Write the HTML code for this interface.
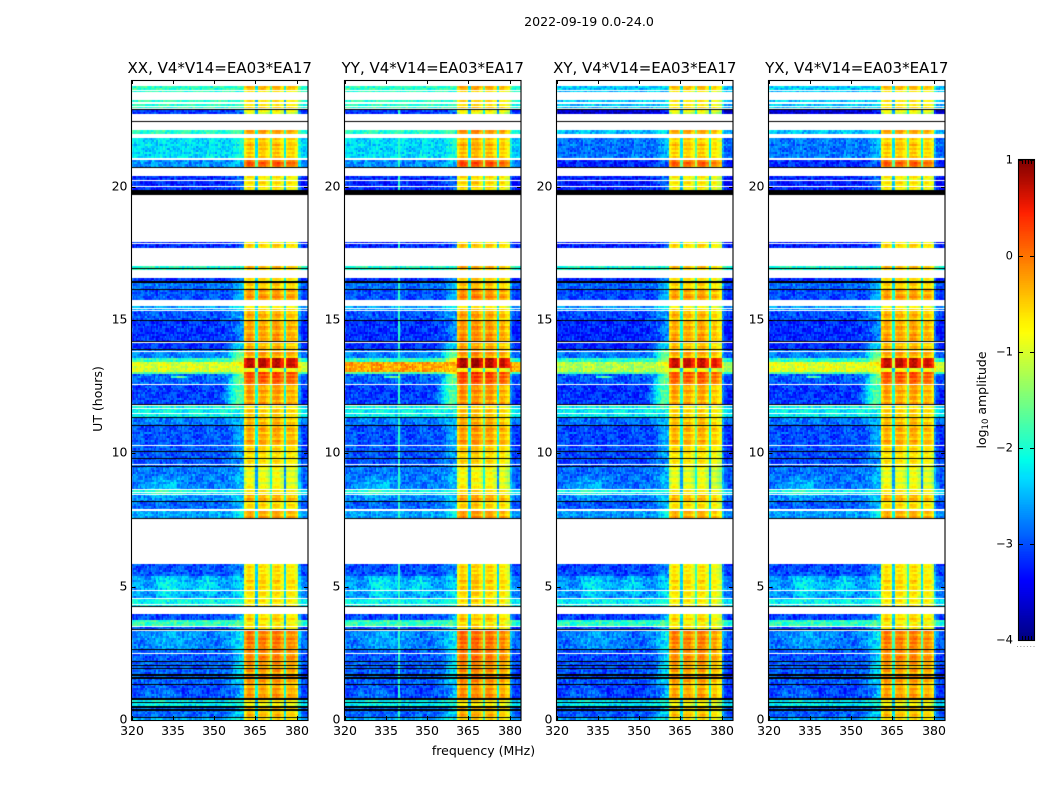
<!DOCTYPE html>
<html>
<head>
<meta charset="utf-8">
<title>2022-09-19 spectrogram</title>
<style>
html,body{margin:0;padding:0;background:#fff;}
#stage{position:relative;width:1050px;height:800px;overflow:hidden;background:#fff;font-family:"DejaVu Sans","Liberation Sans",sans-serif;}
canvas{position:absolute;display:block;}
svg{position:absolute;left:0;top:0;}
text{font-family:"DejaVu Sans","Liberation Sans",sans-serif;fill:#000;}
</style>
</head>
<body>
<div id="stage">
  <canvas id="heat0"></canvas>
  <canvas id="heat1"></canvas>
  <canvas id="heat2"></canvas>
  <canvas id="heat3"></canvas>
  <canvas id="cbar"></canvas>
  <svg id="overlay" width="1050" height="800">
    <text x="589" y="26" text-anchor="middle" font-size="12.6">2022-09-19 0.0-24.0</text>
    <text x="483.5" y="755" text-anchor="middle" font-size="12.5">frequency (MHz)</text>
    <text transform="translate(102,399) rotate(-90)" text-anchor="middle" font-size="12.5">UT (hours)</text>
    <text transform="translate(986,400) rotate(-90)" text-anchor="middle" font-size="12.5">log<tspan font-size="8.5" dy="2">10</tspan><tspan dy="-2"> amplitude</tspan></text>
  </svg>
</div>
<script>
// ---- panel metadata
const panelTitles = ["XX, V4*V14=EA03*EA17","YY, V4*V14=EA03*EA17","XY, V4*V14=EA03*EA17","YX, V4*V14=EA03*EA17"];
const freqTicks = [320,335,350,365,380];
const hourTicks = [0,5,10,15,20];
const colorTicks = [1,0,-1,-2,-3,-4];

// ---- time segments (UT hours) and log10 amplitude levels
const segStart = [0,.11,.49,.79,1.35,2.21,2.66,3.34,3.56,3.75,4.24,4.58,4.88,5.4,7.58,7.91,8.18,8.44,8.63,9.49,10.31,11.03,11.36,11.85,12.6,12.94,13.05,13.2,13.43,13.58,13.88,14.14,15,15.38,15.75,16.13,16.39,16.88,17.7,19.88,20.7,21.08,22.01,22.76,22.88,23.44];
const segEnd   = [.11,.49,.79,1.35,2.21,2.66,3.34,3.56,3.75,3.98,4.58,4.88,5.4,5.85,7.91,8.18,8.44,8.63,9.49,10.31,11.03,11.36,11.81,12.6,12.94,13.05,13.2,13.43,13.58,13.88,14.14,15,15.38,15.56,16.13,16.39,16.58,17,17.96,20.4,21,21.83,22.09,22.88,23.25,23.74];
const lowLevel = [-2.35,-2.7,-2.2,-2.85,-2.75,-2.75,-2.6,-2.85,-1.85,-2.85,-2.15,-2.45,-2.45,-2.8,-2.4,-2.7,-2.55,-2.2,-2.6,-2.8,-2.8,-2.6,-2.15,-2.9,-2.7,-1.7,-1.0,-1.0,-1.9,-2.6,-2.95,-2.95,-2.8,-2.45,-2.8,-2.65,-3,-1.95,-3,-3,-2.5,-2.3,-1.95,-2.95,-1.9,-1.9];
const shoulderLevel = [-2,-2.3,-2,-2.5,-2.3,-2.4,-2.2,-2.5,-1.8,-2.5,-2.1,-2.3,-2.4,-2.7,-2.2,-2.5,-2.4,-2.2,-2.5,-2.6,-2.6,-2.4,-2.1,-1.95,-1.6,-1.3,-1,-.85,-1.3,-1.6,-2.2,-2.7,-2.6,-2.3,-2.6,-2.5,-2.8,-1.9,-2.9,-2.9,-2.4,-2.1,-1.9,-2.9,-1.9,-1.9];
const bandLevel = [-.7,-.45,-.7,-.25,-.2,-.1,-.05,-.55,-.65,-.55,-.7,-.65,-.55,-.6,-.25,-.6,-.3,-.7,-.85,-.6,-.3,-.35,-.55,-.25,.2,.2,-.7,.75,.75,-.3,-.35,-.25,-.35,-.6,-.2,-.45,-.55,-.4,-.55,-.65,.1,-.45,-.25,-.85,-.65,-.45];

// ---- quiet rows sit lower than the bright rows
const dimRowsBelow = -2.31;
const dimRowsShift = -.18;

// ---- per-panel shift for the uppermost rows (UT hours above topRowsFrom)
const topRowsFrom = 20.4;
const topRowsOffset = [0,0,-.45,-.45];

// ---- flagged rows (UT hours)
const whiteLines = [23.625,23.55,23.475,23.175,23.1,23.025,22.95,20.25,20.025,17.85,15.45,15.375,14.14,13.8,12.6,11.78,11.7,11.51,10.31,9.6,8.63,8.55,8.44,7.91,7.875,4.875,4.575,4.35,3.525,3.34,2.51];
const blackLines = [22.91,22.44,20.72,16.93,16.13,15,14.18,13.88,11.85,11.36,11.03,10.05,9.79,9.49,8.18,7.575,4.24,3.41,2.66,2.21,2.06,1.95,1.35,.675,.11];
const blackThickLines = [16.43,1.69,1.58,.79,.49,.41];
const blackBandStart = [19.69];
const blackBandEnd = [19.88];

// ---- frequency structure (MHz)
const subbandStart = [360.8,365.6,370.7,375.6];
const subbandEnd = [365,370.1,375.1,380.3];
const notchDrop = [1.8,1.25,1.75];
const panelBandGain = [[.05,0,.05,-.1],[.12,.12,.08,-.05],[0,-.05,0,-.2],[.02,-.02,.02,-.12]];
const panelBandEndShift = [0,-.6,-.6,-.4];
const panelLowOffset = [0,-.02,-.08,-.05];
const brightRowBoost = [0,.75,-.15,.1];
const edgeFalloff = [-.35,-.2,-.06,0];
const shoulderWeight = [0,0,.05,.1,.15,.25,.4,.6,.8,.95,1,1];
const rightLift = [.45,.08,0,0,0];
const vertLineMhz = [null,339.5,null,null];
const spotHour = 12.85;
const spotMhz = [337,337,337,336];

// ---- soft patches: hour, MHz, hour radius, MHz radius, amplitude
const blobHour = [5,5,8.7,.9,3.0,12.2];
const blobMhz = [334,347,332,330,335,357];
const blobHourR = [.6,.5,.5,.5,.6,.7];
const blobMhzR = [7,5,9,8,10,4];
const blobAmp = [.45,.4,.35,.25,.25,.5];

// ---- fine texture tables
const grainA = [.12,-.2,.05,.25,-.1,-.24,.18,0,-.15,.22,-.05,.1,-.22,.16,-.02,.2,-.18,.07,-.25,.14,.03,-.12,.24,-.08,.09,-.2,.19,-.03,.13,-.17,.21,-.06,-.23,.11,.01,.17,-.14];
const grainB = [-.1,.13,.02,-.15,.08,.15,-.05,-.12,.1,.04,-.08,.14,-.14,.06,-.02,.11,-.13,.09,.03,-.07,.12,-.11,.01];
const rowStripe = [.1,-.05,.14,.02,-.12,.06,.12,-.1,0,.08,-.14,.05,.13,-.06,-.02,.09,-.11,.04,-.08];

// ---- jet colormap anchors
const jetPos = [0,.11,.125,.34,.35,.375,.64,.65,.66,.89,.91,1];
const jetR = [0,0,0,0,0,0,1,1,1,1,.91,.5];
const jetG = [0,0,0,.88,.9,1,1,.98,.96,.13,.09,0];
const jetB = [.5,.96,1,1,.97,.91,.03,0,0,0,0,0];

const colorMin = -4, colorMax = 1;
const freqMin = 320, freqPerPx = 1/2.75, panelWidth = 176.5;
const hourPx = 640/24, plotBottom = 720, plotTop = 80;
const panelLeft = [131.5,344.5,556.5,768.5];
const cbLeft = 1019, cbRight = 1034, cbTop = 160, cbBottom = 640;
const rowStep = .075, colStep = .5;

function xScale(p,mhz){return panelLeft[p]+(mhz-freqMin)/freqPerPx;}
function yScale(h){return plotBottom-h*hourPx;}
function cScale(v){return cbBottom-(v-colorMin)/(colorMax-colorMin)*(cbBottom-cbTop);}

const lut = [];
(function(){
  for(let i=0;i<256;i++){
    const t=i/255;let k=0;
    while(k<jetPos.length-2&&t>jetPos[k+1])k++;
    const f=(t-jetPos[k])/(jetPos[k+1]-jetPos[k]);
    const c=a=>Math.round(255*(a[k]+(a[k+1]-a[k])*f));
    lut.push('rgb('+c(jetR)+','+c(jetG)+','+c(jetB)+')');
  }
})();
function colorOf(v){
  const t=Math.max(0,Math.min(1,(v-colorMin)/(colorMax-colorMin)));
  return lut[Math.round(t*255)];
}

function cellValue(p,s,h,mhz,row,col){
  const g=grainA[(col*11+row*row*3+row*17)%37]+grainB[(col*col*2+row*7)%23];
  const band=bandLevel[s];
  const topShift=h>topRowsFrom?topRowsOffset[p]:0;
  const dim=lowLevel[s]<dimRowsBelow?dimRowsShift:0;
  const low0=lowLevel[s]+panelLowOffset[p]+topShift+dim;
  const low=low0>-1.5?low0+brightRowBoost[p]:low0;
  const sh0=shoulderLevel[s]+topShift;
  const sh=sh0>-1.5?sh0+brightRowBoost[p]*.6:sh0;
  const endShift=panelBandEndShift[p];
  const bandEnd=subbandEnd[3]+endShift;
  if(mhz>=subbandStart[0]&&mhz<bandEnd){
    for(let k=0;k<4;k++){
      const e=k===3?bandEnd:subbandEnd[k];
      if(mhz>=subbandStart[k]&&mhz<e){
        const d=Math.min(Math.round((mhz-subbandStart[k])/colStep),Math.round((e-mhz)/colStep)-1);
        const edge=edgeFalloff[Math.max(0,Math.min(3,d))];
        return band+panelBandGain[p][k]+edge+g*.35+rowStripe[row%19]*(band>.5?.2:1.3);
      }
    }
    for(let k=0;k<3;k++){
      if(mhz>=subbandEnd[k]&&mhz<subbandStart[k+1]) return band-notchDrop[k]+g*.5;
    }
  }
  let v;
  if(mhz<subbandStart[0]){
    const idx=Math.floor(mhz)-350;
    const w=idx<0?0:shoulderWeight[Math.min(idx,shoulderWeight.length-1)];
    v=low+(sh-low)*w+g;
    for(let b=0;b<blobHour.length;b++){
      const dh=(h-blobHour[b])/blobHourR[b],dm=(mhz-blobMhz[b])/blobMhzR[b];
      const r=dh*dh+dm*dm;
      if(r<1) v+=blobAmp[b]*(1-r);
    }
    if(vertLineMhz[p]!==null&&Math.abs(mhz-vertLineMhz[p])<.26) v=Math.max(v,-1.9);
    if(Math.abs(h-spotHour)<.06&&Math.abs(mhz-spotMhz[p])<3) v+=1.5-Math.abs(mhz-spotMhz[p])*.3;
    return v;
  }
  const idx=Math.floor(mhz-bandEnd);
  return low-.1+rightLift[Math.min(idx,rightLift.length-1)]+g*.8;
}

function drawPanel(p){
  const cv=document.getElementById('heat'+p);
  const w=Math.ceil(panelWidth),h=plotBottom-plotTop;
  const x0=panelLeft[p]-.5;
  cv.width=w;cv.height=h;
  cv.style.left=x0+'px';cv.style.top=plotTop+'px';
  const ctx=cv.getContext('2d');
  const nRows=Math.round(24/rowStep),nCols=Math.ceil(panelWidth*freqPerPx/colStep);
  for(let r=0;r<nRows;r++){
    const hour=r*rowStep+rowStep/2;
    let s=-1;
    for(let i=0;i<segStart.length;i++){if(hour>=segStart[i]&&hour<segEnd[i]){s=i;break;}}
    if(s<0)continue;
    const yA=Math.round(yScale(r*rowStep+rowStep))-plotTop,yB=Math.round(yScale(r*rowStep))-plotTop;
    for(let c=0;c<nCols;c++){
      const mhz=freqMin+c*colStep;
      const xA=Math.round(xScale(p,mhz)-x0),xB=Math.round(xScale(p,mhz+colStep)-x0);
      ctx.fillStyle=colorOf(cellValue(p,s,hour,mhz,r,c));
      ctx.fillRect(xA,yA,xB-xA,yB-yA);
    }
  }
  ctx.fillStyle='#fff';
  whiteLines.forEach(l=>ctx.fillRect(0,Math.floor(yScale(l))-plotTop,w,1));
  ctx.fillStyle='#000';
  blackLines.forEach(l=>ctx.fillRect(0,Math.floor(yScale(l))-plotTop,w,1));
  blackThickLines.forEach(l=>ctx.fillRect(0,Math.floor(yScale(l))-plotTop,w,2));
  blackBandStart.forEach((l,i)=>{
    const yT=Math.round(yScale(blackBandEnd[i]))-plotTop,yB=Math.round(yScale(l))-plotTop;
    ctx.fillRect(0,yT,w,yB-yT);
  });
}

const svg=document.getElementById('overlay');
const NS='http://www.w3.org/2000/svg';
function addLine(x1,y1,x2,y2,name,width){
  const el=document.createElementNS(NS,'line');
  el.setAttribute('x1',x1);el.setAttribute('y1',y1);el.setAttribute('x2',x2);el.setAttribute('y2',y2);
  el.setAttribute('stroke','#000');el.setAttribute('stroke-width',width||1);
  
  
  svg.appendChild(el);
  return el;
}
function addText(x,y,str,anchor,size,name){
  const el=document.createElementNS(NS,'text');
  el.setAttribute('x',x);el.setAttribute('y',y);el.setAttribute('text-anchor',anchor);el.setAttribute('font-size',size);
  el.textContent=str;
  
  
  svg.appendChild(el);
  return el;
}
function addFrame(x,y,w,h,name){
  const el=document.createElementNS(NS,'rect');
  el.setAttribute('x',x);el.setAttribute('y',y);el.setAttribute('width',w);el.setAttribute('height',h);
  el.setAttribute('fill','none');el.setAttribute('stroke','#000');el.setAttribute('stroke-width',1.1);
  
  
  svg.appendChild(el);
}

for(let p=0;p<4;p++){
  drawPanel(p);
  const L=panelLeft[p],R=L+panelWidth,pid=['xx','yy','xy','yx'][p];
  addFrame(L,plotTop+.5,panelWidth,plotBottom-plotTop,'panel-frame-'+pid);
  addText(L+panelWidth/2,73,panelTitles[p],'middle',15,'panel-title-'+pid);
  freqTicks.forEach(f=>{
    const x=Math.round(xScale(p,f))+.5;
    addLine(x,plotBottom,x,plotBottom-4,'x-tick-bottom-'+pid+'-'+f);
    addLine(x,plotTop,x,plotTop+4,'x-tick-top-'+pid+'-'+f);
    addText(x-.5,735,String(f),'middle',12.5,'x-tick-label-'+pid+'-'+f);
  });
  hourTicks.forEach(t=>{
    const y=Math.round(yScale(t))+.5;
    addLine(L,y,L+4,y,'y-tick-left-'+pid+'-'+t);
    addLine(R,y,R-4,y,'y-tick-right-'+pid+'-'+t);
    addText(L-4,y+3,String(t),'end',12.5,'y-tick-label-'+pid+'-'+t);
  });
}

// colorbar
(function(){
  const cv=document.getElementById('cbar');
  const w=cbRight-cbLeft,h=cbBottom-cbTop;
  cv.width=w;cv.height=h;cv.style.left=cbLeft+'px';cv.style.top=cbTop+'px';
  const ctx=cv.getContext('2d');
  for(let y=0;y<h;y++){
    const v=colorMax-(y+.5)/h*(colorMax-colorMin);
    ctx.fillStyle=colorOf(v);
    ctx.fillRect(0,y,w,1);
  }
  addFrame(cbLeft-.5,cbTop-.5,w+1,h+1,'colorbar-frame');
  colorTicks.forEach(v=>{
    const y=Math.round(cScale(v))+.5;
    addLine(cbLeft,y,cbLeft+4,y,'colorbar-tick-left-'+v);
    addLine(cbRight,y,cbRight-4,y,'colorbar-tick-right-'+v);
    addText(1013,y+3,(v<0?'\u2212'+(-v):String(v)),'end',11.5,'colorbar-tick-label-'+v);
  });
  for(let i=1;i<5;i++){
    const x=cbLeft+i*3+.5;
    addLine(x,cbTop,x,cbTop+4,'colorbar-top-tick-'+i);
    addLine(x,cbBottom,x,cbBottom-4,'colorbar-bottom-tick-'+i);
  }
  for(let i=0;i<6;i++){
    const el=addLine(1017.5+i*3.3,646,1017.5+i*3.3,647,'colorbar-dot-'+i);
    el.setAttribute('stroke','#999');
  }
})();
</script>
</body>
</html>
